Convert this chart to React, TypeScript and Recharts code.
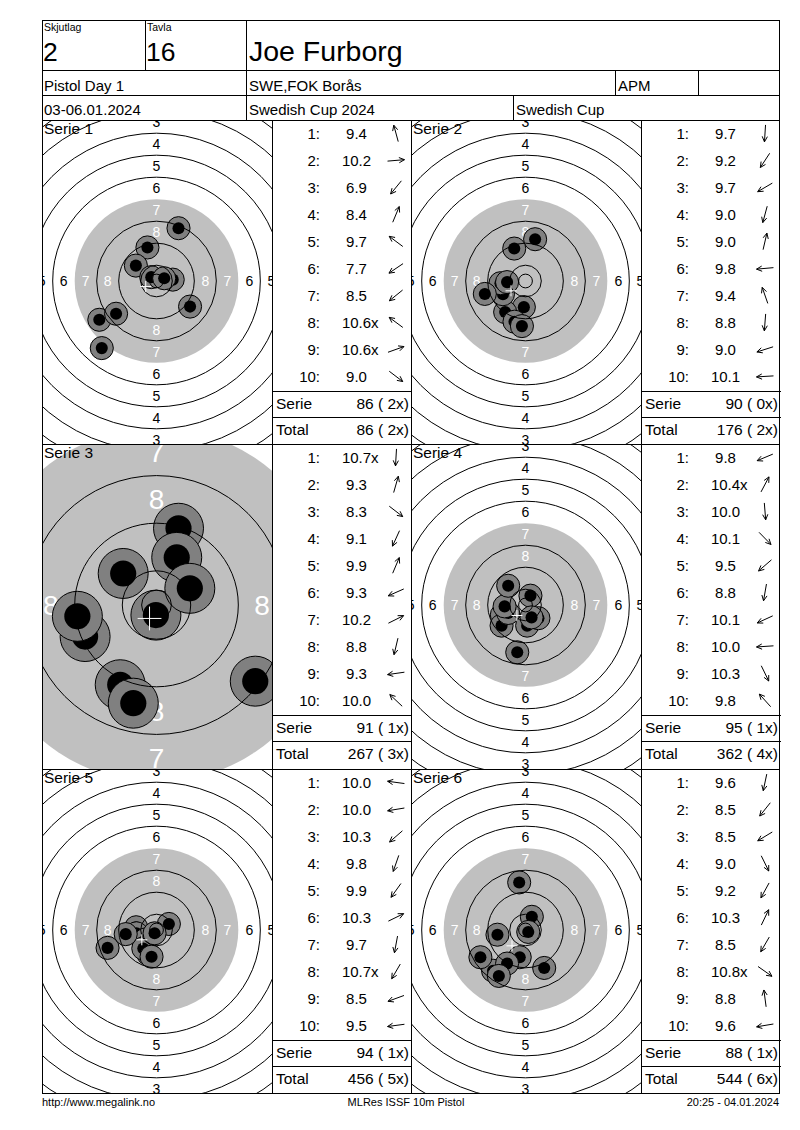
import React from 'react'
import { ScatterChart, Scatter, XAxis, YAxis } from 'recharts'

// header texts
const SQUAD = '2'
const TARGET_NO = '16'
const SHOOTER = 'Joe Furborg'
const EVENT = 'Pistol Day 1'
const CLUB = 'SWE,FOK Borås'
const CLASS_NAME = 'APM'
const DATES = '03-06.01.2024'
const COMPETITION = 'Swedish Cup 2024'
const CUP = 'Swedish Cup'
const FOOTER_LEFT = 'http://www.megalink.no'
const FOOTER_MID = 'MLRes ISSF 10m Pistol'
const FOOTER_RIGHT = '20:25 - 04.01.2024'

const SERIE_NAMES = ['Serie 1', 'Serie 2', 'Serie 3', 'Serie 4', 'Serie 5', 'Serie 6']

// scores as printed, x = inner ten
const SERIE1_SCORES = ['9.4', '10.2', '6.9', '8.4', '9.7', '7.7', '8.5', '10.6x', '10.6x', '9.0']
const SERIE2_SCORES = ['9.7', '9.2', '9.7', '9.0', '9.0', '9.8', '9.4', '8.8', '9.0', '10.1']
const SERIE3_SCORES = ['10.7x', '9.3', '8.3', '9.1', '9.9', '9.3', '10.2', '8.8', '9.3', '10.0']
const SERIE4_SCORES = ['9.8', '10.4x', '10.0', '10.1', '9.5', '8.8', '10.1', '10.0', '10.3', '9.8']
const SERIE5_SCORES = ['10.0', '10.0', '10.3', '9.8', '9.9', '10.3', '9.7', '10.7x', '8.5', '9.5']
const SERIE6_SCORES = ['9.6', '8.5', '8.5', '9.0', '9.2', '10.3', '8.5', '10.8x', '8.8', '9.6']

// hit positions in mm from the target centre (x right, y up)
const SERIE1_X = [-3.3, 5.9, -19.9, 8.0, -7.5, -20.8, -14.7, -1.9, 2.8, 12.2]
const SERIE1_Y = [12.2, 0.5, -24.4, 19.2, 5.6, -14.1, -11.9, 1.4, 1.0, -9.3]
const SERIE2_X = [-0.6, -7.4, -8.2, -4.0, 3.5, -9.1, -4.1, -1.3, -14.8, -6.7]
const SERIE2_Y = [-9.5, -11.3, -4.8, -14.8, 15.2, -0.8, 11.8, -16.4, -4.7, -0.4]
const SERIE3_X = [-0.1, 3.7, 16.6, -6.1, 3.4, -12.0, 5.6, -3.9, -13.3, -5.6]
const SERIE3_Y = [-1.7, 12.9, -12.8, -13.4, 8.0, -5.3, 2.8, -16.5, -1.9, 5.3]
const SERIE4_X = [-8.6, 1.8, 0.6, 4.7, -8.7, -3.0, -6.3, -7.6, 2.2, -6.3]
const SERIE4_Y = [-3.6, 3.4, -7.5, -4.8, -7.5, -17.2, -2.9, -0.5, -4.5, 7.0]
const SERIE5_X = [-7.4, -7.3, -3.9, -3.0, -4.8, 4.5, -1.8, -0.7, -17.8, -11.2]
const SERIE5_Y = [1.0, -1.2, -3.4, -8.7, -6.7, 2.2, -9.7, -1.2, -6.5, -1.5]
const SERIE6_X = [-2.1, -11.8, -16.4, 6.8, -6.7, 2.3, -9.7, 1.0, -2.3, -10.2]
const SERIE6_Y = [-9.9, -14.8, -9.9, -13.8, -12.2, 4.8, -16.7, -0.7, 17.3, -1.7]

const SERIE_SCORES = [SERIE1_SCORES, SERIE2_SCORES, SERIE3_SCORES, SERIE4_SCORES, SERIE5_SCORES, SERIE6_SCORES]
const SERIE_X = [SERIE1_X, SERIE2_X, SERIE3_X, SERIE4_X, SERIE5_X, SERIE6_X]
const SERIE_Y = [SERIE1_Y, SERIE2_Y, SERIE3_Y, SERIE4_Y, SERIE5_Y, SERIE6_Y]

// ISSF 10m pistol ring radii (mm), ring 1 .. ring 10
const RING_RADII = [77.75, 69.75, 61.75, 53.75, 45.75, 37.75, 29.75, 21.75, 13.75, 5.75]
const INNER_TEN = 2.5
const RING_LABELS = [1, 2, 3, 4, 5, 6, 7, 8]

// pixels per mm for each target picture (serie 3 is shown zoomed)
const PANEL_SCALE = [2.75, 2.75, 5.95, 2.75, 2.75, 2.75]

const FONT = '"Liberation Sans", Arial, Helvetica, sans-serif'
const TARGET_LEFT = [42, 411]
const TABLE_LEFT = [272, 641]
const ROW_TOP = [120, 444, 769, 1093]
const TARGET_W = 230
const CENTRE_X = 114.5
const CENTRE_Y = 161

const intPart = (s: string) => Math.floor(parseFloat(s))
const isX = (s: string) => s.endsWith('x')
const textWidth = (s: string, size: number) =>
  s.split('').reduce((w, c) => w + (c === '.' ? 0.278 : 0.556), 0) * size

function Target({ index, height }: { index: number; height: number }) {
  const s = PANEL_SCALE[index]
  const big = s > 4
  const xDomain = [-CENTRE_X / s, (TARGET_W - CENTRE_X) / s]
  const yDomain = [-(height - CENTRE_Y) / s, CENTRE_Y / s]
  const shots = SERIE_X[index].map((x, i) => ({ x, y: SERIE_Y[index][i] }))
  const mean = [
    {
      x: shots.reduce((a, p) => a + p.x, 0) / shots.length,
      y: shots.reduce((a, p) => a + p.y, 0) / shots.length,
    },
  ]
  const centre = [{ x: 0, y: 0 }]
  const fs = big ? 28 : 14

  const face = (p: any) => {
    const { cx, cy } = p
    const labels: React.ReactNode[] = []
    RING_LABELS.forEach((n) => {
      const r = ((RING_RADII[n - 1] + RING_RADII[n]) / 2) * s
      const fill = n >= 7 ? '#ffffff' : '#000000'
      const pos = [
        [cx, cy - r],
        [cx, cy + r],
        [cx - r, cy],
        [cx + r, cy],
      ]
      pos.forEach(([x, y], k) =>
        labels.push(
          <text key={`${n}-${k}`} x={x} y={y + fs * 0.36} textAnchor="middle" fontSize={fs} fontFamily={FONT} fill={fill}>
            {n}
          </text>
        )
      )
    })
    return (
      <g>
        <circle cx={cx} cy={cy} r={RING_RADII[6] * s} fill="#c0c0c0" />
        {labels}
      </g>
    )
  }

  const shot = (p: any) => (
    <g>
      <circle cx={p.cx} cy={p.cy} r={4.2 * s} fill="#808080" stroke="#000" strokeWidth={1} />
      <circle cx={p.cx} cy={p.cy} r={2.2 * s} fill="#000" />
    </g>
  )

  const rings = (p: any) => (
    <g fill="none" stroke="#000" strokeWidth={1}>
      {RING_RADII.map((r, i) => (i === 6 ? null : <circle key={i} cx={p.cx} cy={p.cy} r={r * s} />))}
      <circle cx={p.cx} cy={p.cy} r={INNER_TEN * s} />
    </g>
  )

  const cross = (p: any) => {
    const h = 2 * s
    return (
      <g stroke="#fff" strokeWidth={1}>
        <line x1={p.cx - h} y1={p.cy} x2={p.cx + h} y2={p.cy} />
        <line x1={p.cx} y1={p.cy - h} x2={p.cx} y2={p.cy + h} />
      </g>
    )
  }

  return (
    <ScatterChart width={TARGET_W} height={height} margin={{ top: 0, right: 0, bottom: 0, left: 0 }}>
      <XAxis type="number" dataKey="x" domain={xDomain} allowDataOverflow hide />
      <YAxis type="number" dataKey="y" domain={yDomain} allowDataOverflow hide />
      <Scatter data={centre} shape={face} isAnimationActive={false} />
      <Scatter data={shots} shape={shot} isAnimationActive={false} />
      <Scatter data={centre} shape={rings} isAnimationActive={false} />
      <Scatter data={mean} shape={cross} isAnimationActive={false} />
    </ScatterChart>
  )
}

function Arrow({ cx, cy, angle }: { cx: number; cy: number; angle: number }) {
  const vx = Math.cos(angle)
  const vy = -Math.sin(angle)
  const L = 8.5
  const tipX = cx + vx * L
  const tipY = cy + vy * L
  const head = (a: number) => {
    const bx = -vx * Math.cos(a) + vy * Math.sin(a)
    const by = -vy * Math.cos(a) - vx * Math.sin(a)
    return <line x1={tipX} y1={tipY} x2={tipX + bx * 6} y2={tipY + by * 6} />
  }
  return (
    <g stroke="#000" strokeWidth={1}>
      <line x1={cx - vx * L} y1={cy - vy * L} x2={tipX} y2={tipY} />
      {head(0.45)}
      {head(-0.45)}
    </g>
  )
}

export default function App() {
  let totalSum = 0
  let totalX = 0
  const panels = SERIE_NAMES.map((name, i) => {
    const scores = SERIE_SCORES[i]
    const sum = scores.reduce((a, sc) => a + intPart(sc), 0)
    const xs = scores.filter(isX).length
    totalSum += sum
    totalX += xs
    const col = i % 2
    const row = Math.floor(i / 2)
    return {
      name,
      index: i,
      scores,
      serie: `${sum} (${String(xs).padStart(2, ' ')}x)`,
      total: `${totalSum} (${String(totalX).padStart(2, ' ')}x)`,
      targetLeft: TARGET_LEFT[col],
      tableLeft: TABLE_LEFT[col],
      top: ROW_TOP[row],
      height: ROW_TOP[row + 1] - ROW_TOP[row],
    }
  })

  const hl = (y: number, x1: number, x2: number, k: string) => (
    <line key={k} x1={x1} y1={y + 0.5} x2={x2 + 1} y2={y + 0.5} />
  )
  const vl = (x: number, y1: number, y2: number, k: string) => (
    <line key={k} x1={x + 0.5} y1={y1} x2={x + 0.5} y2={y2 + 1} />
  )

  return (
    <div style={{ position: 'absolute', left: 0, top: 0, width: 800, height: 1130, background: '#fff', fontFamily: FONT }}>
      {panels.map((p) => (
        <div
          key={p.name}
          style={{ position: 'absolute', left: p.targetLeft, top: p.top, width: TARGET_W, height: p.height, overflow: 'hidden' }}
        >
          <Target index={p.index} height={p.height} />
        </div>
      ))}
      <svg
        width={800}
        height={1130}
        style={{ position: 'absolute', left: 0, top: 0, pointerEvents: 'none' }}
        fontFamily={FONT}
      >
        <g stroke="#000" strokeWidth={1} shapeRendering="crispEdges">
          {[20, 70, 95, 120, 444, 769, 1093].map((y) => hl(y, 42, 779, `h${y}`))}
          {vl(42, 20, 1093, 'v42')}
          {vl(779, 20, 1093, 'v779')}
          {vl(145, 20, 70, 'v145')}
          {vl(246, 20, 120, 'v246')}
          {vl(615, 70, 95, 'v615')}
          {vl(698, 70, 95, 'v698')}
          {vl(513, 95, 120, 'v513')}
          {[272, 411, 641].map((x) => vl(x, 120, 1093, `c${x}`))}
          {panels.map((p) => [
            hl(p.top + 271, p.tableLeft, p.tableLeft + 139, `s${p.index}`),
            hl(p.top + 297, p.tableLeft, p.tableLeft + 139, `t${p.index}`),
          ])}
        </g>

        <text x={44} y={31} fontSize={10.5}>Skjutlag</text>
        <text x={147} y={31} fontSize={10.5}>Tavla</text>
        <text x={43} y={61} fontSize={26.5}>{SQUAD}</text>
        <text x={146} y={61} fontSize={26.5}>{TARGET_NO}</text>
        <text x={249} y={61} fontSize={28.5}>{SHOOTER}</text>
        <text x={44} y={91} fontSize={15}>{EVENT}</text>
        <text x={249} y={91} fontSize={15}>{CLUB}</text>
        <text x={618} y={91} fontSize={15}>{CLASS_NAME}</text>
        <text x={44} y={115} fontSize={15}>{DATES}</text>
        <text x={249} y={115} fontSize={15}>{COMPETITION}</text>
        <text x={516} y={115} fontSize={15}>{CUP}</text>

        {panels.map((p) => (
          <g key={`tab${p.index}`}>
            <text x={p.targetLeft + 2} y={p.top + 13.5} fontSize={15.5}>{p.name}</text>
            {p.scores.map((sc, i) => {
              const cy = p.top + 13.4 + 27 * i
              const num = sc.replace('x', '')
              const cxNum = p.tableLeft + 84.5
              const ang = Math.atan2(SERIE_Y[p.index][i], SERIE_X[p.index][i])
              return (
                <g key={i}>
                  <text x={p.tableLeft + 48} y={cy + 5.4} fontSize={15} textAnchor="end">{`${i + 1}:`}</text>
                  <text x={cxNum} y={cy + 5.4} fontSize={15} textAnchor="middle">{num}</text>
                  {isX(sc) && (
                    <text x={cxNum + textWidth(num, 15) / 2} y={cy + 5.4} fontSize={15}>x</text>
                  )}
                  <Arrow cx={p.tableLeft + 124} cy={cy} angle={ang} />
                </g>
              )
            })}
            <text x={p.tableLeft + 4} y={p.top + 288.7} fontSize={15.5}>Serie</text>
            <text x={p.tableLeft + 137} y={p.top + 288.7} fontSize={15.5} textAnchor="end" style={{ whiteSpace: 'pre' }}>
              {p.serie}
            </text>
            <text x={p.tableLeft + 4} y={p.top + 314.7} fontSize={15.5}>Total</text>
            <text x={p.tableLeft + 137} y={p.top + 314.7} fontSize={15.5} textAnchor="end" style={{ whiteSpace: 'pre' }}>
              {p.total}
            </text>
          </g>
        ))}

        <text x={42} y={1106} fontSize={11}>{FOOTER_LEFT}</text>
        <text x={406} y={1106} fontSize={11} textAnchor="middle">{FOOTER_MID}</text>
        <text x={779} y={1106} fontSize={11} textAnchor="end">{FOOTER_RIGHT}</text>
      </svg>
    </div>
  )
}
